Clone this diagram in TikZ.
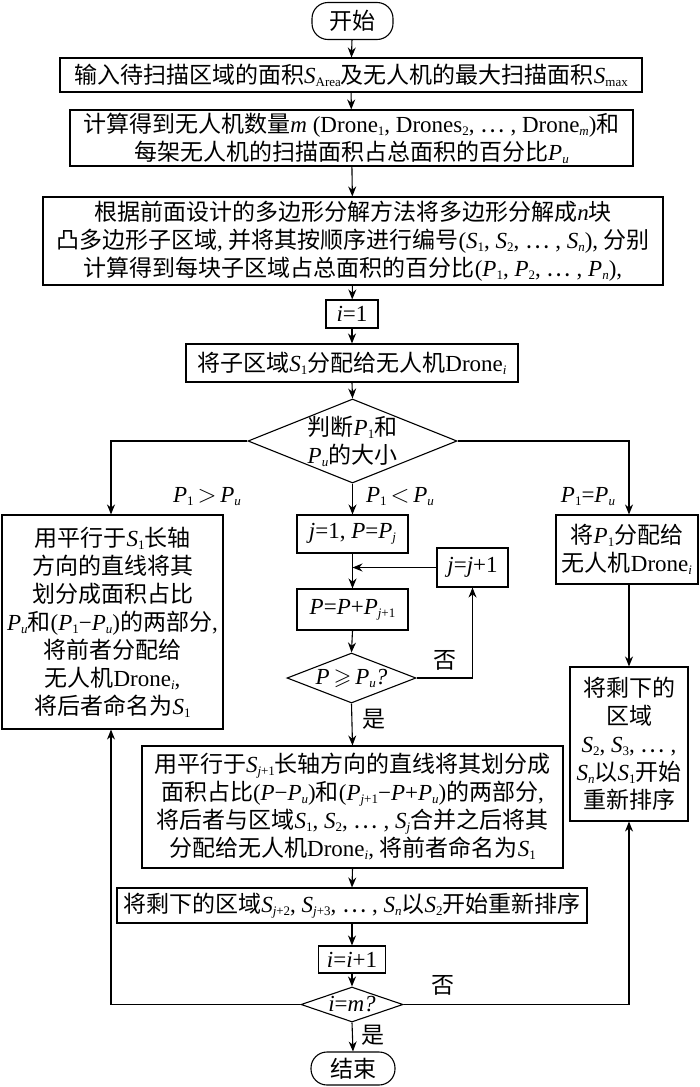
\documentclass[tikz,border=0pt]{standalone}
\usepackage{amssymb}
\usepackage{fontspec}
\setmainfont{Liberation Serif}
\newfontfamily\cjk{Noto Sans CJK SC}
\usetikzlibrary{shapes.geometric,arrows.meta}
\newcommand\sbs[1]{\raisebox{-3pt}{\fontsize{13}{13}\selectfont #1}}
\newcommand\Vs[2]{{\rmfamily\textit{#1}\sbs{#2}}}
\newcommand\Rm[1]{{\rmfamily #1}}
\newcommand\cdt{{\cjk ⋯}}
\newcommand\cjkfs{\cjk\fontsize{23}{28}\selectfont}
\begin{document}
\begin{tikzpicture}[x=1pt,y=-1pt,
  every node/.style={font=\cjkfs},
  box/.style={draw, line width=1.1pt, inner sep=0pt, align=center},
  term/.style={box, rounded corners=16pt},
  dia/.style={draw, line width=1.1pt, diamond, inner sep=0pt, shape aspect=1},
  flow/.style={line width=1.1pt, -{Stealth[length=10pt,width=8pt]}},
  lbl/.style={inner sep=0pt}]
\useasboundingbox (0,0) rectangle (700,1087);

\node[term, minimum width=81, minimum height=37] (start) at (352.5,21) {开始};
\node[box, minimum width=582, minimum height=34] (b1) at (351,75) {输入待扫描区域的面积\Vs{S}{Area}及无人机的最大扫描面积\Vs{S}{max}};
\node[box, minimum width=563, minimum height=56] (b2) at (351.5,138) {计算得到无人机数量\Rm{\textit{m} (Drone\sbs{1}, Drones\sbs{2}, \cdt\ , Drone\sbs{\textit{m}})}和\\每架无人机的扫描面积占总面积的百分比\Vs{P}{\textit{u}}};
\node[box, minimum width=620, minimum height=88] (b3) at (353,241) {根据前面设计的多边形分解方法将多边形分解成\Rm{\textit{n}}块\\凸多边形子区域\Rm{, }并将其按顺序进行编号\Rm{(\Vs{S}{1}, \Vs{S}{2}, \cdt\ , \Vs{S}{\textit{n}}), }分别\\计算得到每块子区域占总面积的百分比\Rm{(\Vs{P}{1}, \Vs{P}{2}, \cdt\ , \Vs{P}{\textit{n}}),}};
\node[box, minimum width=52, minimum height=28] (i1) at (352,314) {\Rm{\textit{i}=1}};
\node[box, minimum width=332, minimum height=38] (b4) at (352,363) {将子区域\Vs{S}{1}分配给无人机\Rm{Drone\sbs{\textit{i}}}};

\node[dia, minimum width=209, minimum height=84] (d1) at (352.5,441) {};
\node[lbl, align=center] at (d1.center) {判断\Vs{P}{1}和\\\Vs{P}{\textit{u}}的大小};

\node[box, minimum width=221, minimum height=214] (L) at (112.5,622) {用平行于\Vs{S}{1}长轴\\方向的直线将其\\划分成面积占比\\\Vs{P}{\textit{u}}和\Rm{(\Vs{P}{1}−\Vs{P}{\textit{u}})}的两部分\Rm{,}\\将前者分配给\\无人机\Rm{Drone\sbs{\textit{i}},}\\将后者命名为\Vs{S}{1}};

\node[box, minimum width=111, minimum height=38] (j1) at (352.5,534) {\Rm{\textit{j}=1, \textit{P}=\Vs{P}{\textit{j}}}};
\node[box, minimum width=71, minimum height=39] (jj) at (472.5,567.5) {\Rm{\textit{j}=\textit{j}+1}};
\node[box, minimum width=111, minimum height=41] (pp) at (352.5,609.5) {\Rm{\textit{P}=\textit{P}+\Vs{P}{\textit{j}+1}}};
\node[dia, minimum width=129, minimum height=50] (d2) at (351.5,678) {};
\node[lbl] at (d2.center) {\Rm{\textit{P}\,$\geqslant$\,\Vs{P}{\textit{u}}\textit{?}}};

\node[box, minimum width=142, minimum height=69] (R1) at (627,549.5) {将\Vs{P}{1}分配给\\无人机\Rm{Drone\sbs{\textit{i}}}};
\node[box, minimum width=118, minimum height=154] (R2) at (629,744) {将剩下的\\区域\\\Rm{\Vs{S}{2}, \Vs{S}{3}, \cdt\ ,}\\\Vs{S}{\textit{n}}以\Vs{S}{1}开始\\重新排序};

\node[box, minimum width=421, minimum height=122] (big) at (352.5,807) {用平行于\Vs{S}{\textit{j}+1}长轴方向的直线将其划分成\\面积占比\Rm{(\textit{P}−\Vs{P}{\textit{u}})}和\Rm{(\Vs{P}{\textit{j}+1}−\textit{P}+\Vs{P}{\textit{u}})}的两部分\Rm{,}\\将后者与区域\Rm{\Vs{S}{1}, \Vs{S}{2}, \cdt\ , \Vs{S}{\textit{j}}}合并之后将其\\分配给无人机\Rm{Drone\sbs{\textit{i}}, }将前者命名为\Vs{S}{1}};
\node[box, minimum width=470, minimum height=35] (rem) at (352,905.5) {将剩下的区域\Rm{\Vs{S}{\textit{j}+2}, \Vs{S}{\textit{j}+3}, \cdt\ , \Vs{S}{\textit{n}}}以\Vs{S}{2}开始重新排序};
\node[box, minimum width=67, minimum height=27] (ii) at (352,959.5) {\Rm{\textit{i}=\textit{i}+1}};
\node[dia, minimum width=102, minimum height=35] (d3) at (352,1004.5) {};
\node[lbl] at (d3.center) {\Rm{\textit{i}=\textit{m}\textit{?}}};
\node[term, minimum width=84, minimum height=33] (end) at (353,1068.5) {结束};

% main column
\draw[flow] (start) -- (b1);
\draw[flow] (b1) -- (b2);
\draw[flow] (b2) -- (b3);
\draw[flow] (b3) -- (i1);
\draw[flow] (i1) -- (b4);
\draw[flow] (b4.south) -- (d1.north);
% branches
\coordinate (cl) at (111,441);
\coordinate (cr) at (629,441);
\draw[flow] (d1.west) -- (cl) -- (L.north -| cl);
\draw[flow] (d1.south) -- (j1.north);
\draw[flow] (d1.east) -- (cr) -- (R1.north -| cr);
\node[lbl] at (207,497) {\Vs{P}{1}\,$>$\,\Vs{P}{\textit{u}}};
\node[lbl] at (400,497) {\Vs{P}{1}\,$<$\,\Vs{P}{\textit{u}}};
\node[lbl] at (588,497) {\Rm{\Vs{P}{1}=\Vs{P}{\textit{u}}}};
% inner loop
\draw[flow] (j1.south) -- (pp.north);
\coordinate (jm) at (352.5,567.5);
\draw[flow] (jj.west) -- (jm);
\draw[flow] (pp.south) -- (d2.north);
\coordinate (jr) at (472.5,678);
\draw[flow] (d2.east) -- (jr) -- (jj.south);
\node[lbl] at (445,660) {否};
\draw[flow] (d2.south) -- (big.north);
\node[lbl] at (374,719) {是};
% right column
\draw[flow] (R1.south -| cr) -- (R2.north -| cr);
% lower main
\draw[flow] (big.south) -- (rem.north);
\draw[flow] (rem.south) -- (ii.north);
\draw[flow] (ii.south) -- (d3.north);
\draw[flow] (d3.south) -- (end.north);
\node[lbl] at (373,1035) {是};
% outer loop
\coordinate (bl) at (111,1004.5);
\coordinate (br) at (629,1004.5);
\draw[flow] (d3.west) -- (bl) -- (L.south -| bl);
\draw[flow] (d3.east) -- (br) -- (R2.south -| br);
\node[lbl] at (443,985) {否};
\end{tikzpicture}
\end{document}
